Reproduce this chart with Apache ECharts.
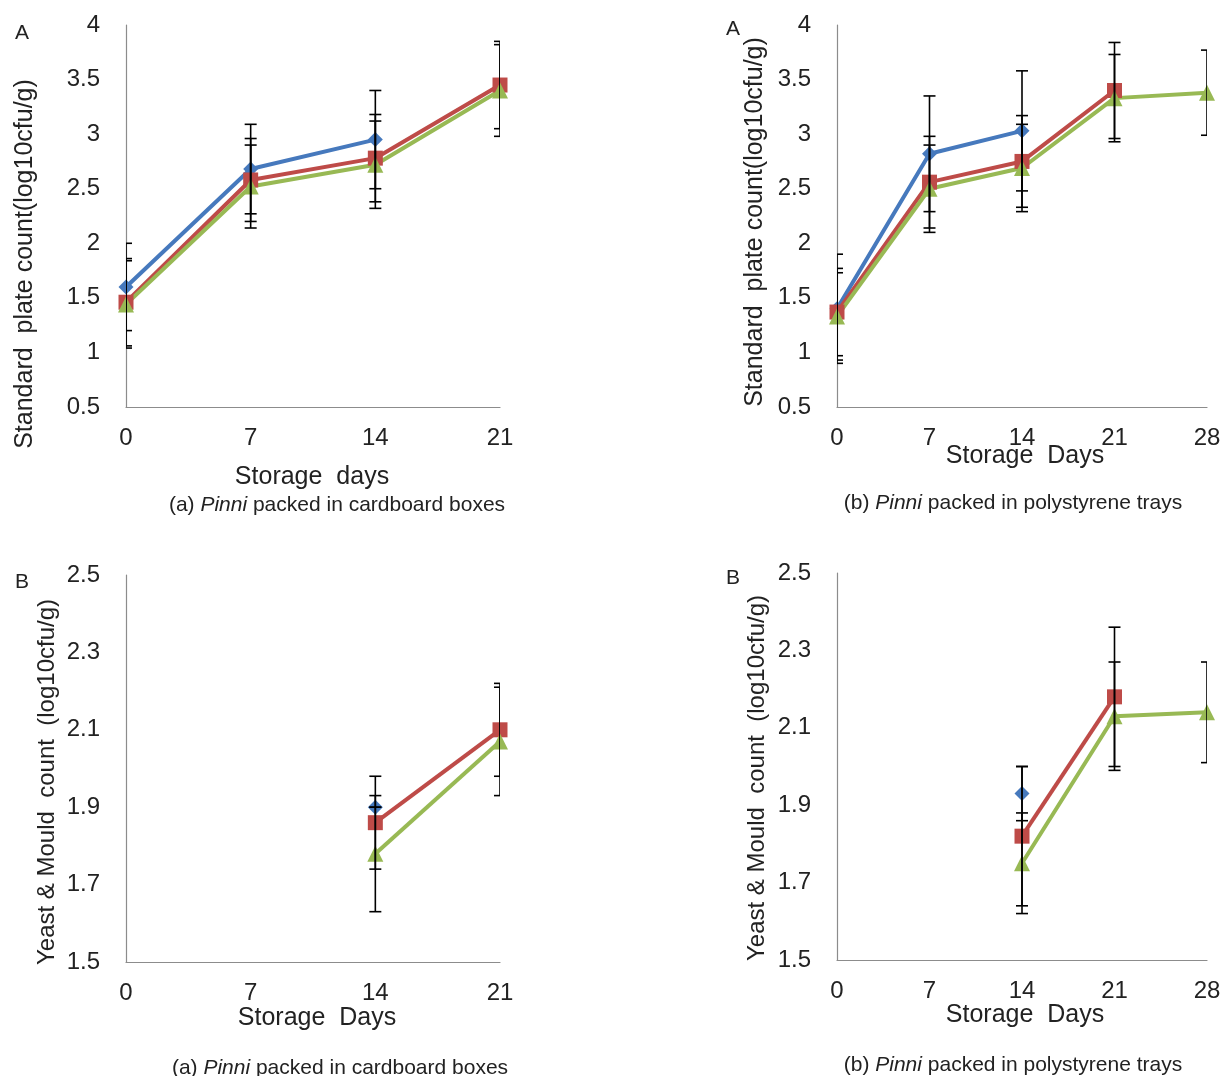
<!DOCTYPE html>
<html>
<head>
<meta charset="utf-8">
<script src="https://cdn.jsdelivr.net/npm/echarts@6/dist/echarts.min.js"></script>
<style>
  html, body { margin: 0; padding: 0; background: #ffffff; }
  #main { width: 1224px; height: 1076px; }
</style>
</head>
<body>
<div id="main"></div>
<script>
// storage days
const daysBox = [0, 7, 14, 21]
const daysTray = [0, 7, 14, 21, 28]

// A: standard plate count, cardboard boxes
const spcBoxBlue = [1.6, 2.68, 2.95, null]
const spcBoxRed = [1.46, 2.58, 2.78, 3.45]
const spcBoxGreen = [1.44, 2.52, 2.72, 3.4]
const spcBoxBlueErr = [0.4, 0.41, 0.45, null]
const spcBoxRedErr = [0.4, 0.38, 0.4, 0.4]
const spcBoxGreenErr = [0.4, 0.38, 0.4, 0.42]

// A: standard plate count, polystyrene trays
const spcTrayBlue = [1.4, 2.82, 3.03, null, null]
const spcTrayRed = [1.37, 2.56, 2.75, 3.4, null]
const spcTrayGreen = [1.33, 2.5, 2.69, 3.33, 3.38]
const spcTrayBlueErr = [0.5, 0.53, 0.55, null, null]
const spcTrayRedErr = [0.4, 0.42, 0.42, 0.44, null]
const spcTrayGreenErr = [0.4, 0.4, 0.4, 0.4, 0.39]

// B: yeast & mould, cardboard boxes
const ymBoxBlue = [null, null, 1.9, null]
const ymBoxRed = [null, null, 1.86, 2.1]
const ymBoxGreen = [null, null, 1.78, 2.07]
const ymBoxBlueErr = [null, null, 0, null]
const ymBoxRedErr = [null, null, 0.12, 0.12]
const ymBoxGreenErr = [null, null, 0.15, 0.14]

// B: yeast & mould, polystyrene trays
const ymTrayBlue = [null, null, 1.93, null, null]
const ymTrayRed = [null, null, 1.82, 2.18, null]
const ymTrayGreen = [null, null, 1.75, 2.13, 2.14]
const ymTrayBlueErr = [null, null, 0.07, null, null]
const ymTrayRedErr = [null, null, 0.18, 0.18, null]
const ymTrayGreenErr = [null, null, 0.13, 0.14, 0.13]

const blue = '#4679bd'
const red = '#be4b48'
const green = '#98b954'
const font = 'Liberation Sans, Arial, sans-serif'

const grids = [
  { left: 126, top: 25, width: 374, height: 382 },
  { left: 837, top: 25, width: 370, height: 382 },
  { left: 126, top: 575, width: 374, height: 387 },
  { left: 837, top: 573, width: 370, height: 387 }
]

function pairs (days, vals) {
  const out = []
  days.forEach((d, i) => { if (vals[i] != null) out.push([d, vals[i]]) })
  return out
}

function bars (days, vals, errs) {
  const out = []
  days.forEach((d, i) => {
    if (vals[i] != null && errs[i] != null) out.push([d, vals[i] - errs[i], vals[i] + errs[i]])
  })
  return out
}

function errorBarItem (params, api) {
  const lo = api.coord([api.value(0), api.value(1)])
  const hi = api.coord([api.value(0), api.value(2)])
  const w = 6
  const style = { stroke: '#000', lineWidth: 1.6 }
  return {
    type: 'group',
    children: [
      { type: 'line', shape: { x1: lo[0], y1: lo[1], x2: hi[0], y2: hi[1] }, style },
      { type: 'line', shape: { x1: hi[0] - w, y1: hi[1], x2: hi[0] + w, y2: hi[1] }, style },
      { type: 'line', shape: { x1: lo[0] - w, y1: lo[1], x2: lo[0] + w, y2: lo[1] }, style }
    ]
  }
}

const xAxes = []
const yAxes = []
const series = []

function panel (idx, days, maxDay, yMin, yMax, yStep, b, r, g, be, re, ge) {
  xAxes.push({
    gridIndex: idx,
    type: 'value',
    min: 0,
    max: maxDay,
    interval: 7,
    axisLine: { lineStyle: { color: '#8c8c8c', width: 1.2 } },
    axisTick: { show: false },
    splitLine: { show: false },
    axisLabel: { color: '#222', fontSize: 24, fontFamily: font, margin: 19 }
  })
  yAxes.push({
    gridIndex: idx,
    type: 'value',
    min: yMin,
    max: yMax,
    interval: yStep,
    axisLine: { show: true, lineStyle: { color: '#8c8c8c', width: 1.2 } },
    axisTick: { show: false },
    splitLine: { show: false },
    axisLabel: { color: '#222', fontSize: 24, fontFamily: font, margin: 26 }
  })
  const lines = [
    { vals: b, color: blue, symbol: 'diamond', size: 15 },
    { vals: r, color: red, symbol: 'rect', size: 15 },
    { vals: g, color: green, symbol: 'triangle', size: 16 }
  ]
  lines.forEach(l => {
    series.push({
      type: 'line',
      xAxisIndex: idx,
      yAxisIndex: idx,
      data: pairs(days, l.vals),
      symbol: l.symbol,
      symbolSize: l.size,
      showSymbol: true,
      lineStyle: { color: l.color, width: 4 },
      itemStyle: { color: l.color },
      clip: false,
      z: 3
    })
  })
  ;[[b, be], [r, re], [g, ge]].forEach(([v, e]) => {
    series.push({
      type: 'custom',
      xAxisIndex: idx,
      yAxisIndex: idx,
      data: bars(days, v, e),
      renderItem: errorBarItem,
      clip: true,
      z: 5
    })
  })
}

panel(0, daysBox, 21, 0.5, 4, 0.5, spcBoxBlue, spcBoxRed, spcBoxGreen, spcBoxBlueErr, spcBoxRedErr, spcBoxGreenErr)
panel(1, daysTray, 28, 0.5, 4, 0.5, spcTrayBlue, spcTrayRed, spcTrayGreen, spcTrayBlueErr, spcTrayRedErr, spcTrayGreenErr)
panel(2, daysBox, 21, 1.5, 2.5, 0.2, ymBoxBlue, ymBoxRed, ymBoxGreen, ymBoxBlueErr, ymBoxRedErr, ymBoxGreenErr)
panel(3, daysTray, 28, 1.5, 2.5, 0.2, ymTrayBlue, ymTrayRed, ymTrayGreen, ymTrayBlueErr, ymTrayRedErr, ymTrayGreenErr)

function txt (x, y, text, size, rotate) {
  return {
    type: 'text',
    x: x,
    y: y,
    rotation: rotate ? Math.PI / 2 : 0,
    style: {
      text: text,
      fill: '#222',
      font: size + 'px ' + font,
      textAlign: 'center',
      textVerticalAlign: 'middle'
    }
  }
}

function caption (x, y, before, after) {
  return {
    type: 'text',
    x: x,
    y: y,
    style: {
      text: '{n|' + before + '}{i|Pinni}{n|' + after + '}',
      textAlign: 'center',
      textVerticalAlign: 'middle',
      rich: {
        n: { fontSize: 21, fontFamily: font, fill: '#222' },
        i: { fontSize: 21, fontFamily: font, fontStyle: 'italic', fill: '#222' }
      }
    }
  }
}

const chart = echarts.init(document.getElementById('main'))
chart.setOption({
  animation: false,
  backgroundColor: '#ffffff',
  grid: grids,
  xAxis: xAxes,
  yAxis: yAxes,
  series: series,
  graphic: [
    txt(22, 33, 'A', 21),
    txt(733, 29, 'A', 21),
    txt(22, 582, 'B', 21),
    txt(733, 578, 'B', 21),
    txt(25, 264, 'Standard  plate count(log10cfu/g)', 25, true),
    txt(755, 222, 'Standard  plate count(log10cfu/g)', 25, true),
    txt(47, 782, 'Yeast & Mould  count  (log10cfu/g)', 24, true),
    txt(757, 778, 'Yeast & Mould  count  (log10cfu/g)', 24, true),
    txt(312, 477, 'Storage  days', 25),
    txt(1025, 456, 'Storage  Days', 25),
    txt(317, 1018, 'Storage  Days', 25),
    txt(1025, 1015, 'Storage  Days', 25),
    caption(337, 505, '(a) ', ' packed in cardboard boxes'),
    caption(1013, 503, '(b) ', ' packed in polystyrene trays'),
    caption(340, 1068, '(a) ', ' packed in cardboard boxes'),
    caption(1013, 1065, '(b) ', ' packed in polystyrene trays')
  ]
})
</script>
</body>
</html>
